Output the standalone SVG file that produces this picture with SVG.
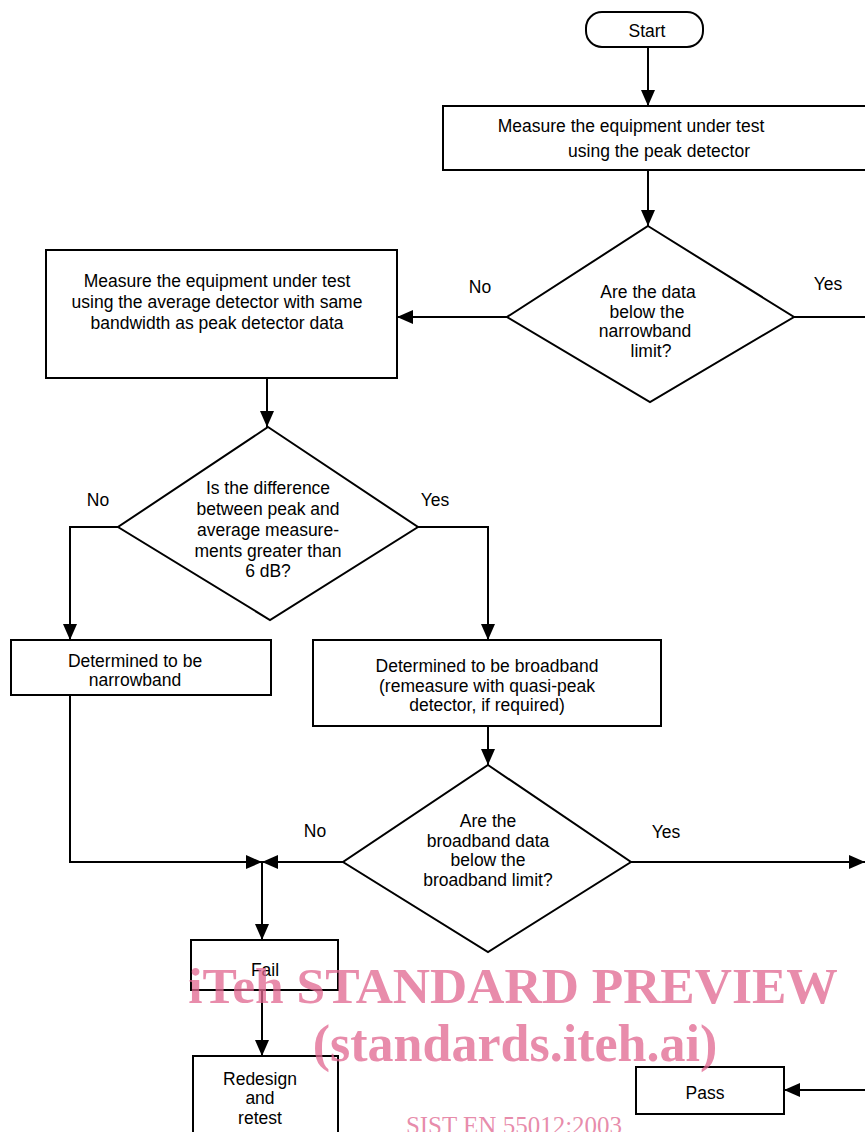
<svg xmlns="http://www.w3.org/2000/svg" width="865" height="1132" viewBox="0 0 865 1132">
<style>
.box{fill:#fff;stroke:#000;stroke-width:2}
.ln{fill:none;stroke:#000;stroke-width:2}
.t{font-family:"Liberation Sans",Arial,sans-serif;font-size:17.5px;fill:#000;text-anchor:middle}
.wm{font-family:"Liberation Serif","Times New Roman",serif;font-weight:bold;fill:#e0668f;fill-opacity:0.75;text-anchor:middle}
.wm2{font-family:"Liberation Serif","Times New Roman",serif;font-weight:normal;fill:#e0668f;fill-opacity:0.75;text-anchor:middle}
</style>
<defs>
<marker id="ah" markerUnits="userSpaceOnUse" markerWidth="16" markerHeight="16" viewBox="0 0 16 16" refX="16" refY="8" orient="auto">
<path d="M0,1 L16,8 L0,15 Z" fill="#000"/>
</marker>
</defs>
<rect width="865" height="1132" fill="#fff"/>
<g id="connectors">
<path class="ln" d="M648,47 V106" marker-end="url(#ah)"/>
<path class="ln" d="M648,170 V226" marker-end="url(#ah)"/>
<path class="ln" d="M507,317 H397" marker-end="url(#ah)"/>
<path class="ln" d="M794,317 H865"/>
<path class="ln" d="M267,378 V427" marker-end="url(#ah)"/>
<path class="ln" d="M118,527 H70 V640" marker-end="url(#ah)"/>
<path class="ln" d="M418,527 H488 V640" marker-end="url(#ah)"/>
<path class="ln" d="M488,726 V765" marker-end="url(#ah)"/>
<path class="ln" d="M70,695 V862 H262" marker-end="url(#ah)"/>
<path class="ln" d="M343,862 H262" marker-end="url(#ah)"/>
<path class="ln" d="M631,862 H865" marker-end="url(#ah)"/>
<path class="ln" d="M262,862 V940" marker-end="url(#ah)"/>
<path class="ln" d="M262,990 V1056" marker-end="url(#ah)"/>
<path class="ln" d="M865,1090 H784" marker-end="url(#ah)"/>
<text class="t" x="480" y="293">No</text>
<text class="t" x="828" y="290">Yes</text>
<text class="t" x="98" y="506">No</text>
<text class="t" x="435" y="506">Yes</text>
<text class="t" x="315" y="837">No</text>
<text class="t" x="666" y="838">Yes</text>
</g>
<g id="start">
<rect class="box" x="586" y="12" width="117" height="35" rx="16"/>
<text class="t" x="647" y="37">Start</text>
</g>
<g id="measure-peak">
<rect class="box" x="443" y="106" width="430" height="64"/>
<text class="t" x="631" y="132">Measure the equipment under test</text>
<text class="t" x="659" y="157">using the peak detector</text>
</g>
<g id="decision-narrowband">
<polygon class="box" points="648,226 794,317 650,402 507,317"/>
<text class="t" x="648" y="298">Are the data</text>
<text class="t" x="647" y="318">below the</text>
<text class="t" x="645" y="337">narrowband</text>
<text class="t" x="651" y="357">limit?</text>
</g>
<g id="measure-average">
<rect class="box" x="46" y="250" width="351" height="128"/>
<text class="t" x="217" y="287">Measure the equipment under test</text>
<text class="t" x="217" y="308">using the average detector with same</text>
<text class="t" x="217" y="329">bandwidth as peak detector data</text>
</g>
<g id="decision-difference">
<polygon class="box" points="268,427 418,527 270,620 118,527"/>
<text class="t" x="268" y="494">Is the difference</text>
<text class="t" x="268" y="515">between peak and</text>
<text class="t" x="268" y="536">average measure-</text>
<text class="t" x="268" y="557">ments greater than</text>
<text class="t" x="268" y="577">6 dB?</text>
</g>
<g id="narrowband">
<rect class="box" x="11" y="640" width="260" height="55"/>
<text class="t" x="135" y="667">Determined to be</text>
<text class="t" x="135" y="686">narrowband</text>
</g>
<g id="broadband">
<rect class="box" x="313" y="640" width="348" height="86"/>
<text class="t" x="487" y="672">Determined to be broadband</text>
<text class="t" x="487" y="692">(remeasure with quasi-peak</text>
<text class="t" x="487" y="711">detector, if required)</text>
</g>
<g id="decision-broadband">
<polygon class="box" points="488,765 631,862 488,952 343,862"/>
<text class="t" x="488" y="827">Are the</text>
<text class="t" x="488" y="847">broadband data</text>
<text class="t" x="488" y="866">below the</text>
<text class="t" x="488" y="886">broadband limit?</text>
</g>
<g id="fail">
<rect class="box" x="191" y="940" width="147" height="50"/>
<text class="t" x="265" y="976">Fail</text>
</g>
<g id="redesign">
<rect class="box" x="193" y="1056" width="145" height="90"/>
<text class="t" x="260" y="1085">Redesign</text>
<text class="t" x="260" y="1104">and</text>
<text class="t" x="260" y="1124">retest</text>
</g>
<g id="pass">
<rect class="box" x="636" y="1067" width="148" height="47"/>
<text class="t" x="705" y="1099">Pass</text>
</g>
<g id="watermark">
<text class="wm" x="513" y="1003" font-size="51.5">iTeh STANDARD PREVIEW</text>
<text class="wm" x="515" y="1061" font-size="52">(standards.iteh.ai)</text>
<text class="wm2" x="514" y="1134" font-size="25">SIST EN 55012:2003</text>
</g>
</svg>
